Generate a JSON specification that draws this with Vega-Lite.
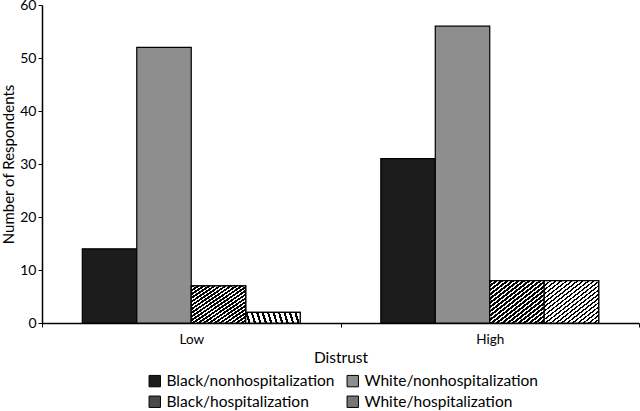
{
  "$schema": "https://vega.github.io/schema/vega-lite/v6.json",
  "width": 597,
  "height": 318,
  "autosize": {"type": "none"},
  "padding": {"left": 42, "top": 5, "right": 1, "bottom": 88},
  "background": "#ffffff",
  "data": {
    "values": [
      {"distrust": "Low", "group": "Black/nonhospitalization", "count": 14},
      {"distrust": "Low", "group": "White/nonhospitalization", "count": 52},
      {"distrust": "Low", "group": "Black/hospitalization", "count": 7},
      {"distrust": "Low", "group": "White/hospitalization", "count": 2},
      {"distrust": "High", "group": "Black/nonhospitalization", "count": 31},
      {"distrust": "High", "group": "White/nonhospitalization", "count": 56},
      {"distrust": "High", "group": "Black/hospitalization", "count": 8},
      {"distrust": "High", "group": "White/hospitalization", "count": 8}
    ]
  },
  "encoding": {
    "x": {
      "field": "distrust",
      "type": "nominal",
      "sort": ["Low", "High"],
      "scale": {"paddingInner": 0, "paddingOuter": 0},
      "axis": {
        "title": "Distrust",
        "titleFont": "Lato",
        "titleFontSize": 15.5,
        "titleFontWeight": "normal",
        "titleColor": "#000",
        "titlePadding": 5,
        "labelAngle": 0,
        "labelFont": "Lato",
        "labelFontSize": 13.5,
        "labelColor": "#000",
        "labelPadding": 5,
        "tickBand": "extent",
        "tickSize": 4,
        "tickColor": "#000",
        "domainColor": "#000",
        "domainWidth": 1.5
      }
    },
    "xOffset": {
      "field": "group",
      "type": "nominal",
      "scale": {
        "domain": ["Black/nonhospitalization", "White/nonhospitalization", "Black/hospitalization", "White/hospitalization"],
        "paddingInner": 0,
        "paddingOuter": 0.74
      }
    },
    "y": {
      "field": "count",
      "type": "quantitative",
      "scale": {"domain": [0, 60], "nice": false},
      "axis": {
        "title": "Number of Respondents",
        "titleFont": "Lato",
        "titleFontSize": 15,
        "titleFontWeight": "normal",
        "titleColor": "#000",
        "titlePadding": 3,
        "values": [0, 10, 20, 30, 40, 50, 60],
        "grid": false,
        "labelFont": "Lato",
        "labelFontSize": 14,
        "labelColor": "#000",
        "labelPadding": 2,
        "tickSize": 4,
        "tickColor": "#000",
        "domainColor": "#000",
        "domainWidth": 1.5
      }
    }
  },
  "layer": [
    {
      "mark": {"type": "bar", "stroke": "#000000", "strokeWidth": 1.2},
      "encoding": {
        "fill": {
          "field": "group",
          "type": "nominal",
          "scale": {
            "domain": ["Black/nonhospitalization", "White/nonhospitalization", "Black/hospitalization", "White/hospitalization"],
            "range": ["#1c1c1c", "#8e8e8e", "#4a4a4a", "#767676"]
          },
          "legend": {
            "title": null,
            "orient": "none",
            "legendX": 105,
            "legendY": 368,
            "columns": 2,
            "direction": "horizontal",
            "symbolType": "square",
            "symbolSize": 130,
            "symbolStrokeColor": "#000",
            "symbolStrokeWidth": 1,
            "labelFont": "Lato",
            "labelFontSize": 15.5,
            "labelColor": "#000",
            "labelOffset": 4,
            "labelLimit": 300,
            "columnPadding": 10,
            "rowPadding": 4,
            "encode": {
              "symbols": {
                "update": {
                  "stroke": {"value": "#000000"},
                  "strokeWidth": {"value": 1}
                }
              }
            }
          }
        }
      }
    },
    {
      "transform": [{"filter": "datum.group === 'Black/hospitalization'"}],
      "mark": {
        "type": "bar",
        "stroke": "#000000",
        "strokeWidth": 1.2,
        "fill": {"gradient": "linear", "x1": 0, "y1": 0, "x2": 1, "y2": 1, "stops": [
          {"offset": 0, "color": "#000"}, {"offset": 0.03, "color": "#000"}, {"offset": 0.03, "color": "#fff"}, {"offset": 0.05, "color": "#fff"},
          {"offset": 0.05, "color": "#000"}, {"offset": 0.08, "color": "#000"}, {"offset": 0.08, "color": "#fff"}, {"offset": 0.10, "color": "#fff"},
          {"offset": 0.10, "color": "#000"}, {"offset": 0.13, "color": "#000"}, {"offset": 0.13, "color": "#fff"}, {"offset": 0.15, "color": "#fff"},
          {"offset": 0.15, "color": "#000"}, {"offset": 0.18, "color": "#000"}, {"offset": 0.18, "color": "#fff"}, {"offset": 0.20, "color": "#fff"},
          {"offset": 0.20, "color": "#000"}, {"offset": 0.23, "color": "#000"}, {"offset": 0.23, "color": "#fff"}, {"offset": 0.25, "color": "#fff"},
          {"offset": 0.25, "color": "#000"}, {"offset": 0.28, "color": "#000"}, {"offset": 0.28, "color": "#fff"}, {"offset": 0.30, "color": "#fff"},
          {"offset": 0.30, "color": "#000"}, {"offset": 0.33, "color": "#000"}, {"offset": 0.33, "color": "#fff"}, {"offset": 0.35, "color": "#fff"},
          {"offset": 0.35, "color": "#000"}, {"offset": 0.38, "color": "#000"}, {"offset": 0.38, "color": "#fff"}, {"offset": 0.40, "color": "#fff"},
          {"offset": 0.40, "color": "#000"}, {"offset": 0.43, "color": "#000"}, {"offset": 0.43, "color": "#fff"}, {"offset": 0.45, "color": "#fff"},
          {"offset": 0.45, "color": "#000"}, {"offset": 0.48, "color": "#000"}, {"offset": 0.48, "color": "#fff"}, {"offset": 0.50, "color": "#fff"},
          {"offset": 0.50, "color": "#000"}, {"offset": 0.53, "color": "#000"}, {"offset": 0.53, "color": "#fff"}, {"offset": 0.55, "color": "#fff"},
          {"offset": 0.55, "color": "#000"}, {"offset": 0.58, "color": "#000"}, {"offset": 0.58, "color": "#fff"}, {"offset": 0.60, "color": "#fff"},
          {"offset": 0.60, "color": "#000"}, {"offset": 0.63, "color": "#000"}, {"offset": 0.63, "color": "#fff"}, {"offset": 0.65, "color": "#fff"},
          {"offset": 0.65, "color": "#000"}, {"offset": 0.68, "color": "#000"}, {"offset": 0.68, "color": "#fff"}, {"offset": 0.70, "color": "#fff"},
          {"offset": 0.70, "color": "#000"}, {"offset": 0.73, "color": "#000"}, {"offset": 0.73, "color": "#fff"}, {"offset": 0.75, "color": "#fff"},
          {"offset": 0.75, "color": "#000"}, {"offset": 0.78, "color": "#000"}, {"offset": 0.78, "color": "#fff"}, {"offset": 0.80, "color": "#fff"},
          {"offset": 0.80, "color": "#000"}, {"offset": 0.83, "color": "#000"}, {"offset": 0.83, "color": "#fff"}, {"offset": 0.85, "color": "#fff"},
          {"offset": 0.85, "color": "#000"}, {"offset": 0.88, "color": "#000"}, {"offset": 0.88, "color": "#fff"}, {"offset": 0.90, "color": "#fff"},
          {"offset": 0.90, "color": "#000"}, {"offset": 0.93, "color": "#000"}, {"offset": 0.93, "color": "#fff"}, {"offset": 0.95, "color": "#fff"},
          {"offset": 0.95, "color": "#000"}, {"offset": 0.98, "color": "#000"}, {"offset": 0.98, "color": "#fff"}, {"offset": 1, "color": "#fff"}
        ]}
      }
    },
    {
      "transform": [{"filter": "datum.group === 'White/hospitalization'"}],
      "mark": {
        "type": "bar",
        "stroke": "#000000",
        "strokeWidth": 1.2,
        "fill": {"gradient": "linear", "x1": 0, "y1": 0, "x2": 1, "y2": 1, "stops": [
          {"offset": 0, "color": "#000"}, {"offset": 0.02, "color": "#000"}, {"offset": 0.02, "color": "#fff"}, {"offset": 0.05, "color": "#fff"},
          {"offset": 0.05, "color": "#000"}, {"offset": 0.07, "color": "#000"}, {"offset": 0.07, "color": "#fff"}, {"offset": 0.10, "color": "#fff"},
          {"offset": 0.10, "color": "#000"}, {"offset": 0.12, "color": "#000"}, {"offset": 0.12, "color": "#fff"}, {"offset": 0.15, "color": "#fff"},
          {"offset": 0.15, "color": "#000"}, {"offset": 0.17, "color": "#000"}, {"offset": 0.17, "color": "#fff"}, {"offset": 0.20, "color": "#fff"},
          {"offset": 0.20, "color": "#000"}, {"offset": 0.22, "color": "#000"}, {"offset": 0.22, "color": "#fff"}, {"offset": 0.25, "color": "#fff"},
          {"offset": 0.25, "color": "#000"}, {"offset": 0.27, "color": "#000"}, {"offset": 0.27, "color": "#fff"}, {"offset": 0.30, "color": "#fff"},
          {"offset": 0.30, "color": "#000"}, {"offset": 0.32, "color": "#000"}, {"offset": 0.32, "color": "#fff"}, {"offset": 0.35, "color": "#fff"},
          {"offset": 0.35, "color": "#000"}, {"offset": 0.37, "color": "#000"}, {"offset": 0.37, "color": "#fff"}, {"offset": 0.40, "color": "#fff"},
          {"offset": 0.40, "color": "#000"}, {"offset": 0.42, "color": "#000"}, {"offset": 0.42, "color": "#fff"}, {"offset": 0.45, "color": "#fff"},
          {"offset": 0.45, "color": "#000"}, {"offset": 0.47, "color": "#000"}, {"offset": 0.47, "color": "#fff"}, {"offset": 0.50, "color": "#fff"},
          {"offset": 0.50, "color": "#000"}, {"offset": 0.52, "color": "#000"}, {"offset": 0.52, "color": "#fff"}, {"offset": 0.55, "color": "#fff"},
          {"offset": 0.55, "color": "#000"}, {"offset": 0.57, "color": "#000"}, {"offset": 0.57, "color": "#fff"}, {"offset": 0.60, "color": "#fff"},
          {"offset": 0.60, "color": "#000"}, {"offset": 0.62, "color": "#000"}, {"offset": 0.62, "color": "#fff"}, {"offset": 0.65, "color": "#fff"},
          {"offset": 0.65, "color": "#000"}, {"offset": 0.67, "color": "#000"}, {"offset": 0.67, "color": "#fff"}, {"offset": 0.70, "color": "#fff"},
          {"offset": 0.70, "color": "#000"}, {"offset": 0.72, "color": "#000"}, {"offset": 0.72, "color": "#fff"}, {"offset": 0.75, "color": "#fff"},
          {"offset": 0.75, "color": "#000"}, {"offset": 0.77, "color": "#000"}, {"offset": 0.77, "color": "#fff"}, {"offset": 0.80, "color": "#fff"},
          {"offset": 0.80, "color": "#000"}, {"offset": 0.82, "color": "#000"}, {"offset": 0.82, "color": "#fff"}, {"offset": 0.85, "color": "#fff"},
          {"offset": 0.85, "color": "#000"}, {"offset": 0.87, "color": "#000"}, {"offset": 0.87, "color": "#fff"}, {"offset": 0.90, "color": "#fff"},
          {"offset": 0.90, "color": "#000"}, {"offset": 0.92, "color": "#000"}, {"offset": 0.92, "color": "#fff"}, {"offset": 0.95, "color": "#fff"},
          {"offset": 0.95, "color": "#000"}, {"offset": 0.97, "color": "#000"}, {"offset": 0.97, "color": "#fff"}, {"offset": 1, "color": "#fff"}
        ]}
      }
    }
  ],
  "config": {"view": {"stroke": null}}
}
